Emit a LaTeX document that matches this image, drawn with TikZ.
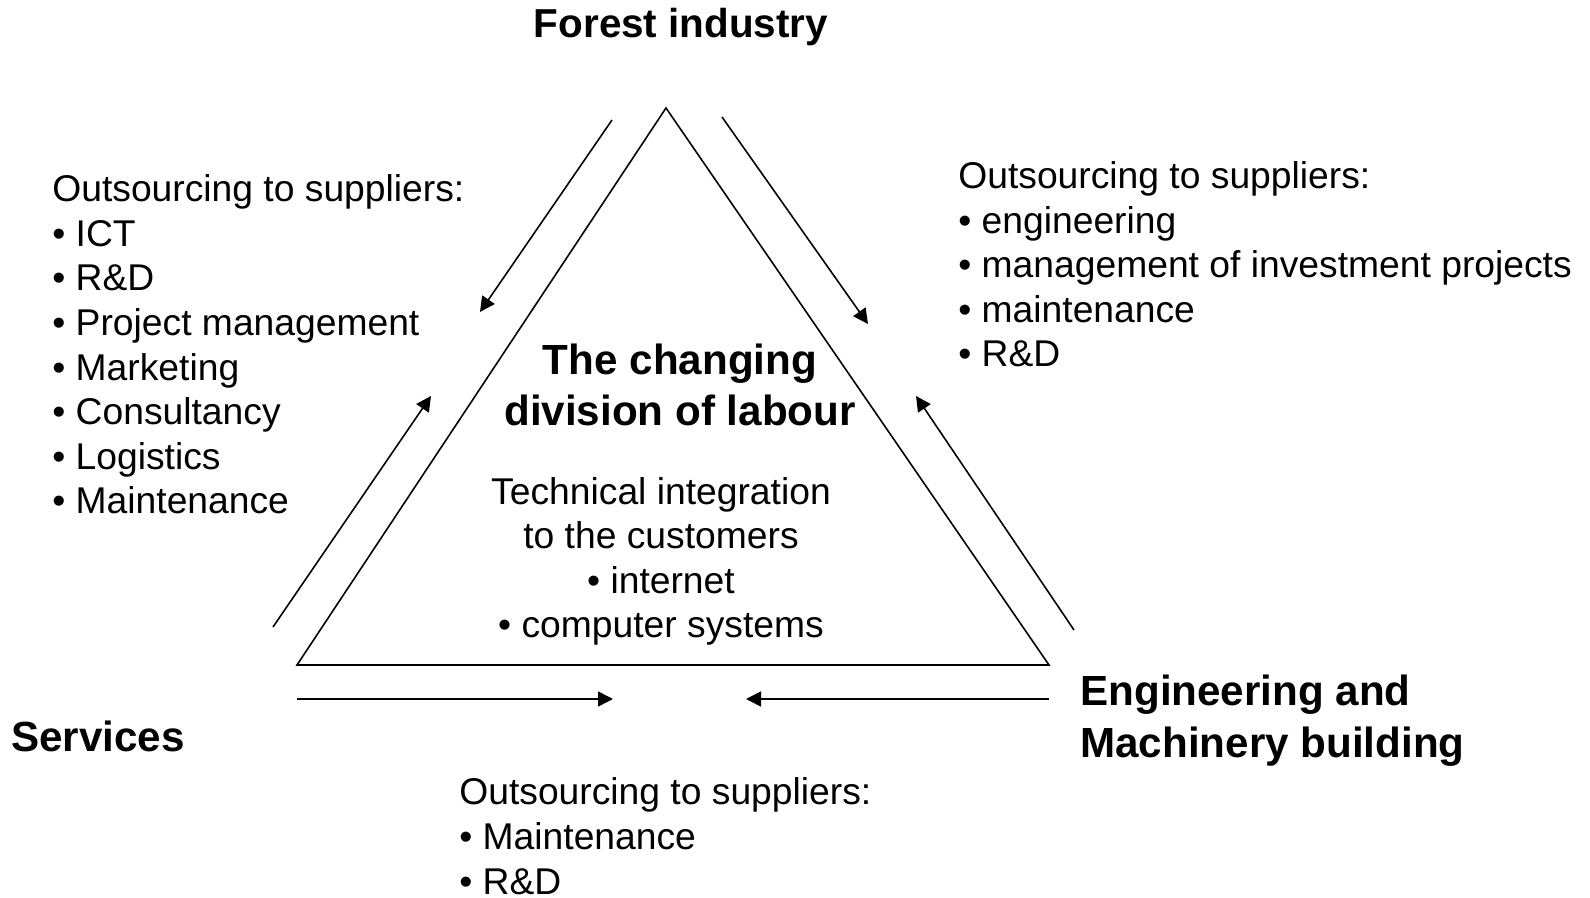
\documentclass[tikz,border=0pt]{standalone}
\usepackage{fontspec}
\setmainfont{Liberation Sans}
\usetikzlibrary{arrows.meta}

\begin{document}
\begin{tikzpicture}[x=0.02cm, y=-0.02cm,
    heading/.style={font=\fontsize{24}{29.3}\selectfont\bfseries, inner sep=0pt},
    listing/.style={font=\fontsize{21.2}{25.4}\selectfont, align=left, inner sep=0pt},
    flow/.style={-{Triangle[length=0.3cm, width=0.3cm]}, line width=0.9pt},
    edge/.style={line width=0.9pt, line join=miter}
]
\useasboundingbox (0,0) rectangle (1590,898);

% Triangle
\coordinate (apex) at (666,108);
\coordinate (botleft) at (297,665);
\coordinate (botright) at (1049,665);
\draw[edge] (apex) -- (botleft) -- (botright) -- cycle;

% Corner labels (base = last line)
\node[heading, font=\fontsize{23}{28}\selectfont\bfseries, anchor=base] (forest) at (681,38) {Forest industry};
\node[heading, anchor=base west] (services) at (11,751) {Services};
\node[heading, anchor=base west, align=left] (engineering) at (1080,757) {Engineering and\\Machinery building};

% Centre
\node[heading, anchor=base, align=center] (division) at (680,426) {The changing\\division of labour};
\node[listing, anchor=base, align=center] (integration) at (661,638) {Technical integration\\to the customers\\• internet\\• computer systems};

% Outsourcing lists
\node[listing, anchor=base west] (leftlist) at (52,514) {Outsourcing to suppliers:\\• ICT\\• R\&D\\• Project management\\• Marketing\\• Consultancy\\• Logistics\\• Maintenance};
\node[listing, anchor=base west] (rightlist) at (958,367) {Outsourcing to suppliers:\\• engineering\\• management of investment projects\\• maintenance\\• R\&D};
\node[listing, anchor=base west] (bottomlist) at (459,894) {Outsourcing to suppliers:\\• Maintenance\\• R\&D};

% Arrow ends
\coordinate (fs1) at (612,120);
\coordinate (fs2) at (480,312);
\coordinate (sf1) at (273,627);
\coordinate (sf2) at (431,396);
\coordinate (fe1) at (722,117);
\coordinate (fe2) at (868,324);
\coordinate (ef1) at (1074,630);
\coordinate (ef2) at (916,396);
\coordinate (sm1) at (297,699);
\coordinate (sm2) at (613,699);
\coordinate (em1) at (1049,699);
\coordinate (em2) at (746,699);

% Arrows
\draw[flow] (fs1) -- (fs2);
\draw[flow] (sf1) -- (sf2);
\draw[flow] (fe1) -- (fe2);
\draw[flow] (ef1) -- (ef2);
\draw[flow] (sm1) -- (sm2);
\draw[flow] (em1) -- (em2);

\end{tikzpicture}
\end{document}
